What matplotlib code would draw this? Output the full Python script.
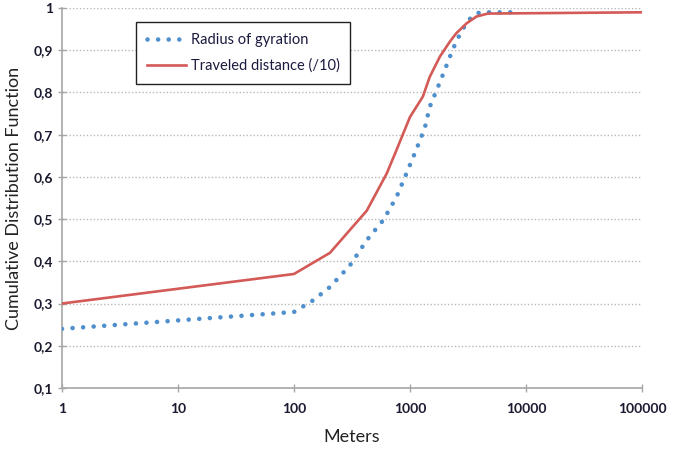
import matplotlib
matplotlib.use('Agg')
import matplotlib.pyplot as plt
from matplotlib.ticker import FixedLocator, FixedFormatter

# values
gyr_x = [1, 100, 147, 204, 303, 424, 590, 767, 905, 1070, 1220, 1350, 1480,
         1700, 1940, 2210, 2460, 2810, 3400, 4000, 8000]
gyr_y = [0.24, 0.28, 0.308, 0.339, 0.39, 0.45, 0.498, 0.553, 0.60, 0.648, 0.687,
         0.719, 0.766, 0.806, 0.845, 0.885, 0.916, 0.948, 0.98, 0.99, 0.99]

dist_x = [1, 100, 204, 424, 630, 745, 1000, 1290, 1480, 1810, 2200, 2500,
          3080, 3740, 4700, 100000]
dist_y = [0.30, 0.37, 0.42, 0.52, 0.608, 0.656, 0.742, 0.79, 0.837, 0.885,
          0.92, 0.94, 0.964, 0.98, 0.987, 0.99]

y_ticks = [0.1, 0.2, 0.3, 0.4, 0.5, 0.6, 0.7, 0.8, 0.9, 1.0]
y_labels = ['0,1', '0,2', '0,3', '0,4', '0,5', '0,6', '0,7', '0,8', '0,9', '1']
x_ticks = [1, 10, 100, 1000, 10000, 100000]
x_labels = ['1', '10', '100', '1000', '10000', '100000']

plt.rcParams['font.family'] = ['Lato', 'DejaVu Sans']

fig = plt.figure(figsize=(6.84, 4.49), dpi=100)
ax = fig.add_axes([0.0906, 0.136, 0.848, 0.846])

ax.plot(gyr_x, gyr_y, color='#4f8fcc', linewidth=3.3,
        linestyle=(0, (0.01, 2.3)), dash_capstyle='round',
        label='Radius of gyration', zorder=3)
ax.plot(dist_x, dist_y, color='#d35a56', linewidth=1.9,
        label='Traveled distance (/10)', zorder=4)

ax.set_xscale('log')
ax.set_xlim(1, 100000)
ax.set_ylim(0.1, 1.0)
ax.xaxis.set_major_locator(FixedLocator(x_ticks))
ax.xaxis.set_major_formatter(FixedFormatter(x_labels))
ax.xaxis.set_minor_locator(FixedLocator([]))
ax.yaxis.set_major_locator(FixedLocator(y_ticks))
ax.yaxis.set_major_formatter(FixedFormatter(y_labels))

for t in y_ticks[1:]:
    ax.axhline(t, color='#b8b8b8', linewidth=1.0, linestyle=(0, (1, 1.5)), zorder=1)

for side in ['top', 'right']:
    ax.spines[side].set_visible(False)
for side in ['left', 'bottom']:
    ax.spines[side].set_color('#a6a6a6')
    ax.spines[side].set_linewidth(1.2)

ax.tick_params(axis='both', direction='inout', length=6, width=1,
               color='#a6a6a6', labelsize=10, labelcolor='#1a1a2e')
ax.tick_params(axis='x', pad=8)
for lbl in ax.get_xticklabels() + ax.get_yticklabels():
    lbl.set_fontweight('bold')

ax.set_xlabel('Meters', fontsize=13, color='#222222', labelpad=10)
ax.set_ylabel('Cumulative Distribution Function', fontsize=13, color='#222222', labelpad=8)

leg = ax.legend(loc='upper left', bbox_to_anchor=(0.115, 0.982), fancybox=False,
                edgecolor='#222222', framealpha=1, fontsize=10.5,
                handlelength=2.7, borderpad=0.75, labelspacing=0.8, handletextpad=0.3)
leg.get_frame().set_linewidth(1.0)
for txt in leg.get_texts():
    txt.set_color('#1a1a40')

fig.savefig('out.png', dpi=100)
